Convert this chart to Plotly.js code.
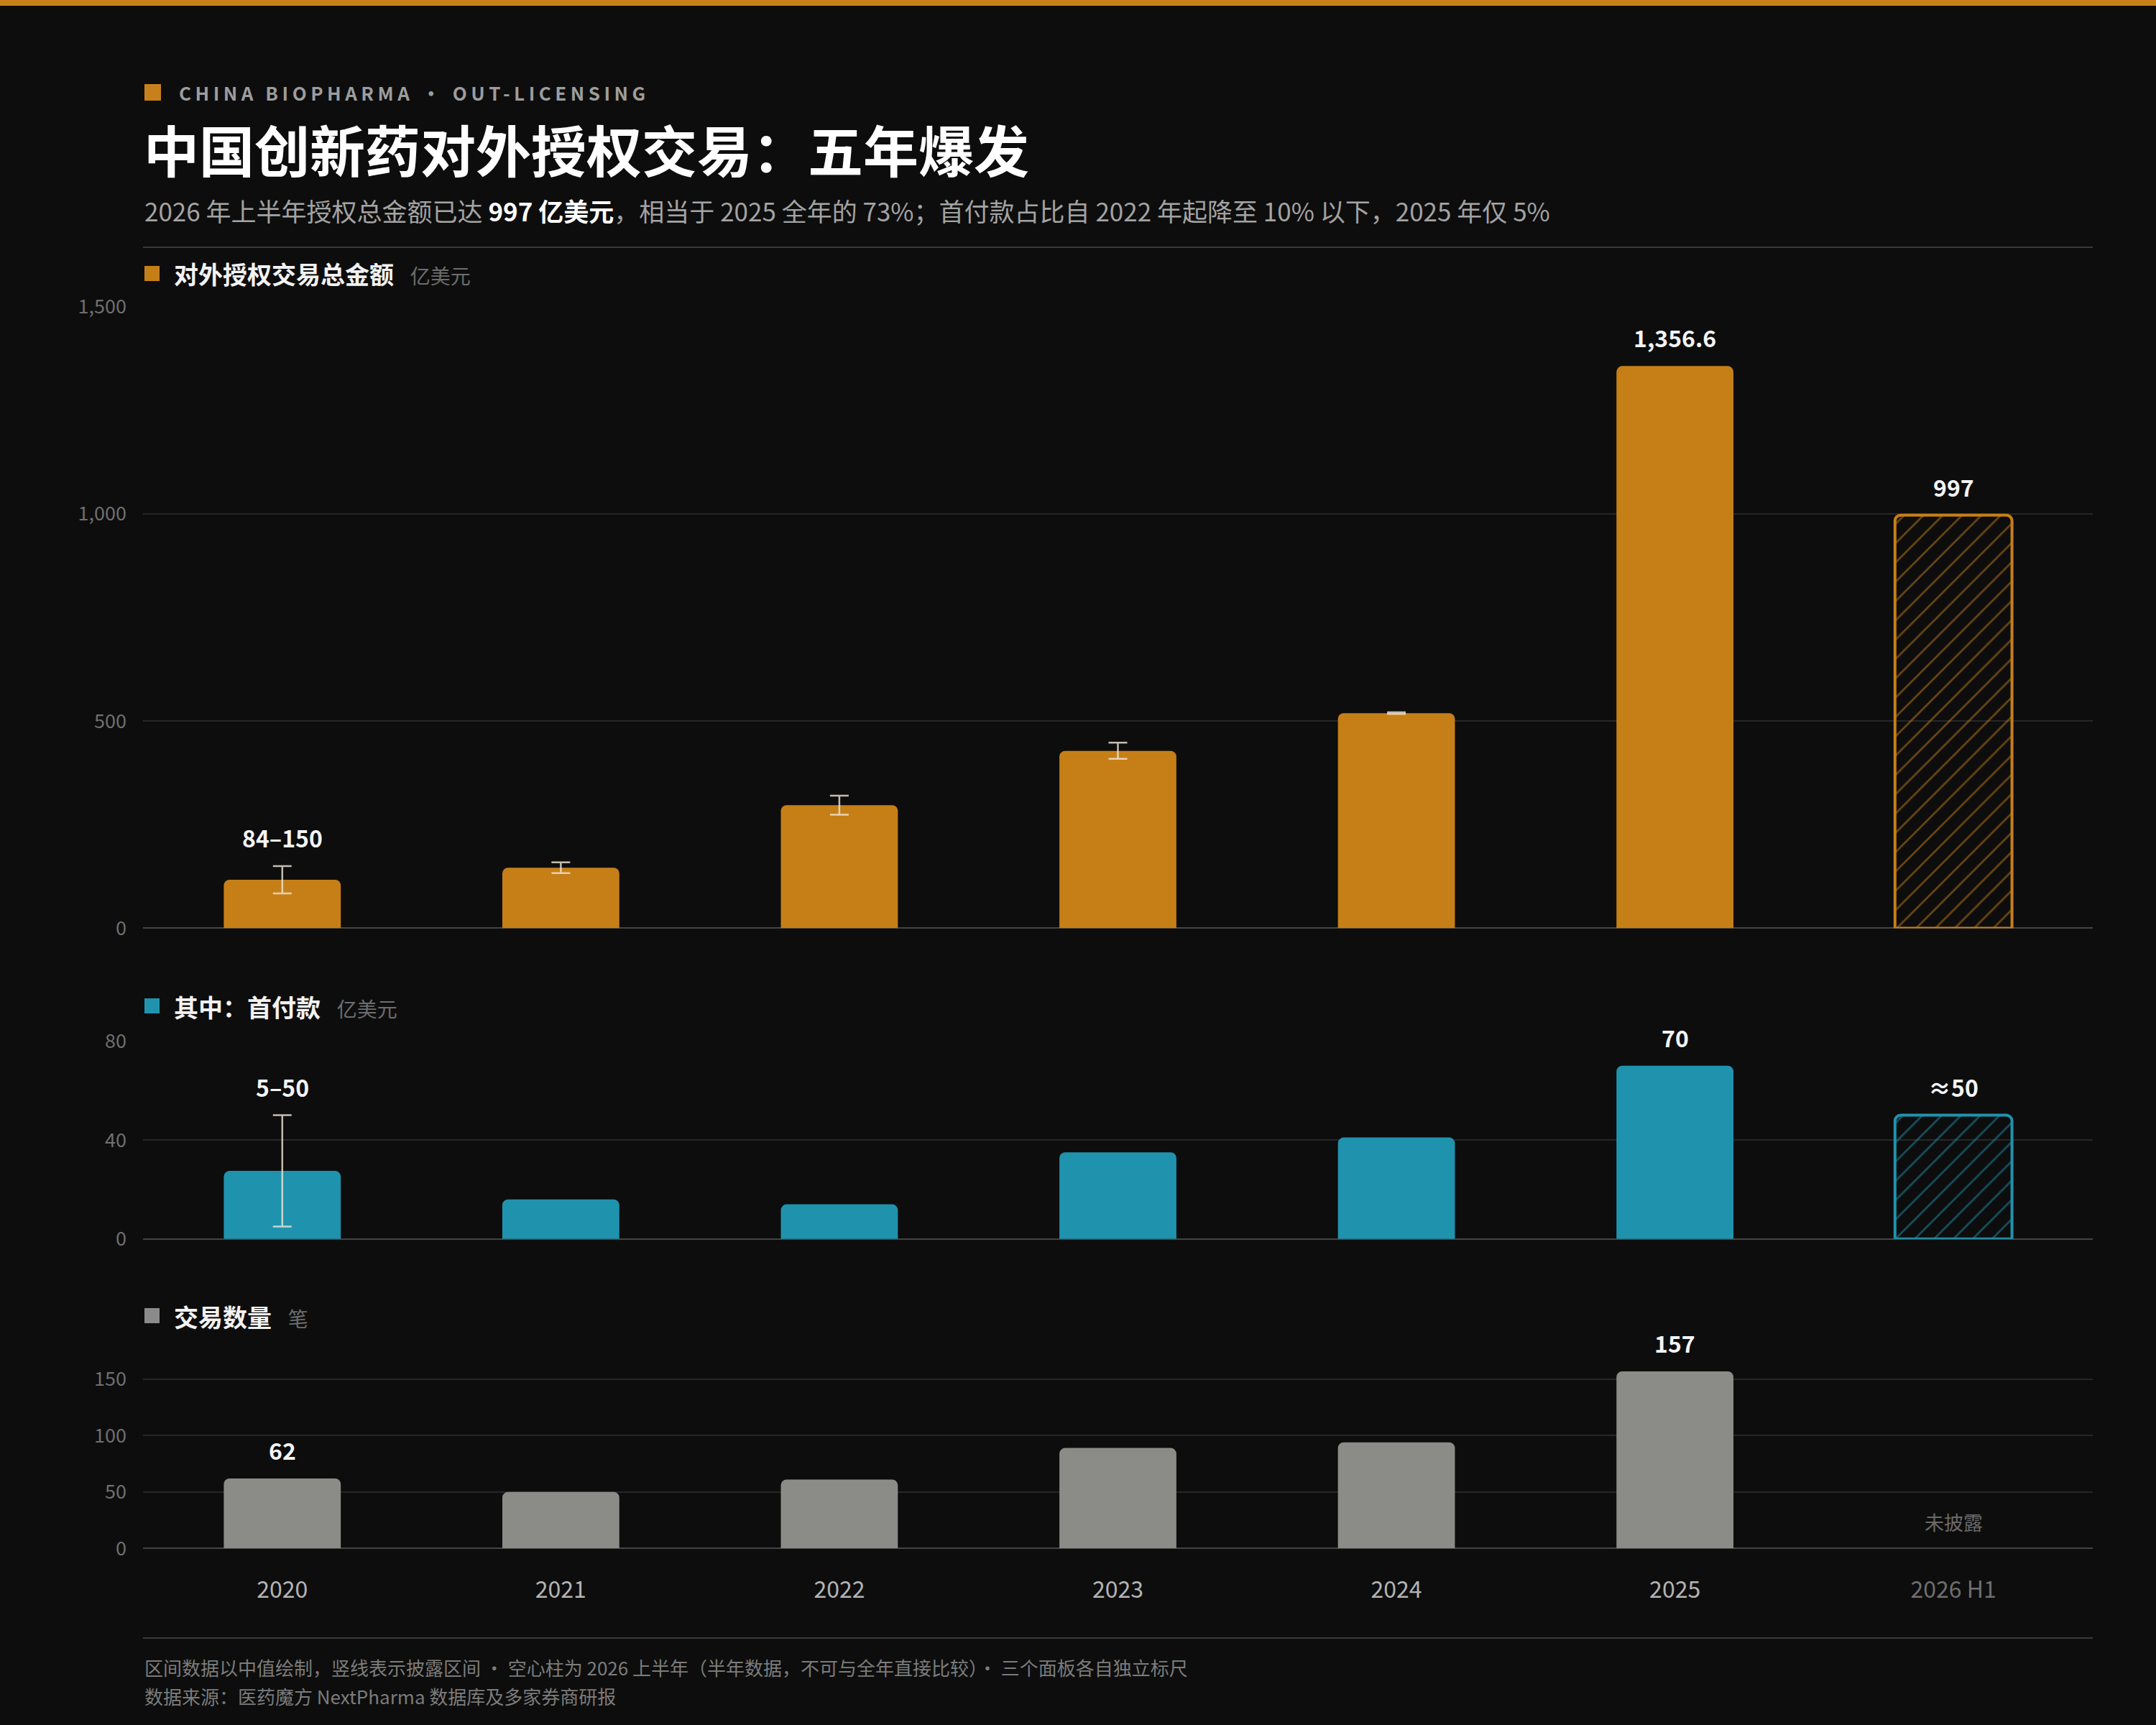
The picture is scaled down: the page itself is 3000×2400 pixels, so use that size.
<!DOCTYPE html>
<html>
<head>
<meta charset="utf-8">
<script src="https://cdn.plot.ly/plotly-3.0.1.min.js"></script>
<style>
html,body{margin:0;padding:0;background:#0d0d0d;}
#chart{width:3000px;height:2400px;}
</style>
</head>
<body>
<div id="chart"></div>
<script>
// ---------- data ----------
const years = ['2020','2021','2022','2023','2024','2025','2026 H1'];
const tickLabels = ['2020','2021','2022','2023','2024','2025','2026 H1'];

// total deal value (亿美元): midpoint, disclosed low/high
const totalValue = [117, 146, 297, 428, 519, 1356.6, 997];
const totalLow   = [84, 133, 274, 409, 517, null, null];
const totalHigh  = [150, 159, 320, 448, 521, null, null];
const totalLabels = ['84–150', null, null, null, null, '1,356.6', '997'];

// upfront payment (亿美元)
const upfrontValue = [27.5, 16, 14, 35, 41, 70, 50];
const upfrontLow   = [5, null, null, null, null, null, null];
const upfrontHigh  = [50, null, null, null, null, null, null];
const upfrontLabels = ['5–50', null, null, null, null, '70', '≈50'];

// deal count (笔)
const dealCount = [62, 50, 61, 89, 94, 157, null];
const dealLabels = ['62', null, null, null, null, '157', null];
const dealMissingLabel = '未披露';

const halfYearIndex = 6;

// ---------- styling ----------
const BG = '#0d0d0d';
const ORANGE = '#c67f17';
const TEAL = '#1f93ae';
const GRAY = '#8b8c87';
const FONT = '"Noto Sans CJK SC", "Noto Sans", sans-serif';
const W = 3000, H = 2400;
const px = v => v / W;
const py = v => 1 - v / H;

const xDomain = [px(199), px(2912)];
const BAR_W = 0.42;
const xIndex = years.map((_, i) => i);

const errStyle = {color: 'rgba(235,228,212,0.82)', thickness: 2.5, width: 13};

// bars of full years; split into ones with a disclosed range (with error bars) and without
function solidTraces(vals, lo, hi, color, yaxis) {
  const hasRange = i => lo && lo[i] != null && hi[i] != null;
  const full = i => i !== halfYearIndex;
  const base = {type: 'bar', x: xIndex, yaxis: yaxis, xaxis: 'x', width: BAR_W,
    marker: {color: color, cornerradius: 8, line: {width: 0}}, hoverinfo: 'skip'};
  const plain = Object.assign({}, base, {
    y: vals.map((v, i) => full(i) && !hasRange(i) ? v : null)
  });
  const out = [plain];
  if (lo) {
    out.push(Object.assign({}, base, {
      y: vals.map((v, i) => full(i) && hasRange(i) ? v : null),
      error_y: Object.assign({
        type: 'data', symmetric: false, visible: true,
        array: vals.map((v, i) => hasRange(i) ? hi[i] - v : 0),
        arrayminus: vals.map((v, i) => hasRange(i) ? v - lo[i] : 0)
      }, errStyle)
    }));
  }
  return out;
}
function hatchTrace(vals, color, lineColor, yaxis) {
  return {
    type: 'bar', x: xIndex, y: vals.map((v, i) => i === halfYearIndex ? v : null),
    yaxis: yaxis, xaxis: 'x', width: BAR_W,
    marker: {
      color: 'rgba(0,0,0,0)', cornerradius: 8,
      line: {color: color, width: 4},
      pattern: {shape: '/', fgcolor: lineColor, bgcolor: 'rgba(0,0,0,0)', size: 19, solidity: 0.14, fillmode: 'replace'}
    },
    hoverinfo: 'skip'
  };
}

const data = [].concat(
  solidTraces(totalValue, totalLow, totalHigh, ORANGE, 'y'),
  [hatchTrace(totalValue, ORANGE, 'rgba(198,127,23,0.5)', 'y')],
  solidTraces(upfrontValue, upfrontLow, upfrontHigh, TEAL, 'y2'),
  [hatchTrace(upfrontValue, TEAL, 'rgba(31,147,174,0.5)', 'y2')],
  solidTraces(dealCount, null, null, GRAY, 'y3')
);

// ---------- axes ----------
const yCommon = {
  showgrid: true, gridcolor: '#272727', gridwidth: 2,
  zeroline: true, zerolinecolor: '#444444', zerolinewidth: 2,
  showline: false, ticks: '', fixedrange: true,
  tickfont: {family: FONT, size: 27, color: '#6f6f6f'},
  ticklabelstandoff: 22, anchor: 'x'
};
// panel 1: 0 at y=1291.4, 1500 at y=426.7
const yaxis = Object.assign({}, yCommon, {
  domain: [py(1291.4), py(426.7)], range: [0, 1500],
  tickvals: [0, 500, 1000, 1500], ticktext: ['0', '500', '1,000', '1,500']
});
// panel 2: 0 at 1723.8, 80 at 1448.3
const yaxis2 = Object.assign({}, yCommon, {
  domain: [py(1723.8), py(1448.3)], range: [0, 80],
  tickvals: [0, 40, 80]
});
// panel 3: 0 at 2154.2, 150 at 1918.9 -> 160 at 1903.2
const yaxis3 = Object.assign({}, yCommon, {
  domain: [py(2154.2), py(1903.2)], range: [0, 160],
  tickvals: [0, 50, 100, 150]
});

const xaxis = {
  type: 'linear', domain: xDomain, range: [-0.5, 6.5], anchor: 'y3',
  showgrid: false, zeroline: false, showline: false, ticks: '', fixedrange: true,
  tickvals: xIndex,
  ticktext: tickLabels.map((t, i) => i === halfYearIndex ? '<span style="color:#6f6f6f">' + t + '</span>' : t),
  tickfont: {family: FONT, size: 32, color: '#b4b4b4'},
  ticklabelstandoff: 36
};

// ---------- annotations ----------
const ann = [];
function valueLabels(labels, vals, hi, yref) {
  labels.forEach((lab, i) => {
    if (!lab) return;
    const top = hi && hi[i] != null ? Math.max(vals[i], hi[i]) : vals[i];
    ann.push({
      xref: 'x', yref: yref, x: xIndex[i], y: top, text: '<b>' + lab + '</b>',
      showarrow: false, yanchor: 'middle', yshift: 40,
      font: {family: FONT, size: 32, color: '#f4f4f4'}
    });
  });
}
valueLabels(totalLabels, totalValue, totalHigh, 'y');
valueLabels(upfrontLabels, upfrontValue, upfrontHigh, 'y2');
valueLabels(dealLabels, dealCount, null, 'y3');
ann.push({
  xref: 'x', yref: 'y3', x: xIndex[halfYearIndex], y: 0, text: dealMissingLabel,
  showarrow: false, yanchor: 'middle', yshift: 37,
  font: {family: FONT, size: 27, color: '#6a6a6a'}
});

function paperText(x, y, text, size, color, extra) {
  ann.push(Object.assign({
    xref: 'paper', yref: 'paper', x: px(x), y: py(y), text: text,
    showarrow: false, xanchor: 'left', yanchor: 'middle', align: 'left',
    font: {family: FONT, size: size, color: color}
  }, extra || {}));
}
// eyebrow
paperText(247, 129, '<b><span style="letter-spacing:5.5px">CHINA BIOPHARMA • OUT-LICENSING</span></b>', 26, '#9d9d9d');
// title
paperText(198, 207, '<b>中国创新药对外授权交易：五年爆发</b>', 77, '#ffffff', {font: {family: FONT, size: 77, color: '#ffffff', weight: 900}});
// subtitle
paperText(199, 292, '2026 年上半年授权总金额已达 <b><span style="color:#ffffff">997 亿美元</span></b>，相当于 2025 全年的 73%；首付款占比自 2022 年起降至 10% 以下，2025 年仅 5%', 35, '#a3a3a3');
// panel labels
paperText(240, 381, '<b>对外授权交易总金额</b>   <span style="font-size:28px;color:#6d6d6d">亿美元</span>', 34, '#f2f2f2');
paperText(240, 1400, '<b>其中：首付款</b>   <span style="font-size:28px;color:#6d6d6d">亿美元</span>', 34, '#f2f2f2');
paperText(240, 1831, '<b>交易数量</b>   <span style="font-size:28px;color:#6d6d6d">笔</span>', 34, '#f2f2f2');
// footnotes
paperText(199, 2319, '区间数据以中值绘制，竖线表示披露区间 · 空心柱为 2026 上半年（半年数据，不可与全年直接比较）· 三个面板各自独立标尺', 26, '#7c7c7c');
paperText(199, 2359, '数据来源：医药魔方 NextPharma 数据库及多家券商研报', 26, '#7c7c7c');

// ---------- shapes ----------
function rectPx(x0, y0, x1, y1, color) {
  return {type: 'rect', xref: 'paper', yref: 'paper', x0: px(x0), x1: px(x1), y0: py(y1), y1: py(y0),
    fillcolor: color, line: {width: 0}, layer: 'above'};
}
function hline(y, color) {
  return {type: 'line', xref: 'paper', yref: 'paper', x0: xDomain[0], x1: xDomain[1], y0: py(y), y1: py(y),
    line: {color: color, width: 2}};
}
const shapes = [
  rectPx(0, 0, 3000, 8, '#c8801a'),
  rectPx(201, 117, 224, 140, '#c8801a'),
  hline(344, '#3a3a3a'),
  rectPx(201, 370, 222, 391, ORANGE),
  rectPx(201, 1389, 222, 1410, TEAL),
  rectPx(201, 1820, 222, 1841, '#8b8b8b'),
  hline(2279, '#3a3a3a')
];

const layout = {
  width: W, height: H,
  margin: {l: 0, r: 0, t: 0, b: 0, pad: 0},
  paper_bgcolor: BG, plot_bgcolor: BG,
  barmode: 'overlay',
  showlegend: false,
  hovermode: false,
  font: {family: FONT, color: '#cccccc'},
  xaxis: xaxis, yaxis: yaxis, yaxis2: yaxis2, yaxis3: yaxis3,
  annotations: ann, shapes: shapes
};

Plotly.newPlot('chart', data, layout, {staticPlot: true, displayModeBar: false});
</script>
</body>
</html>
